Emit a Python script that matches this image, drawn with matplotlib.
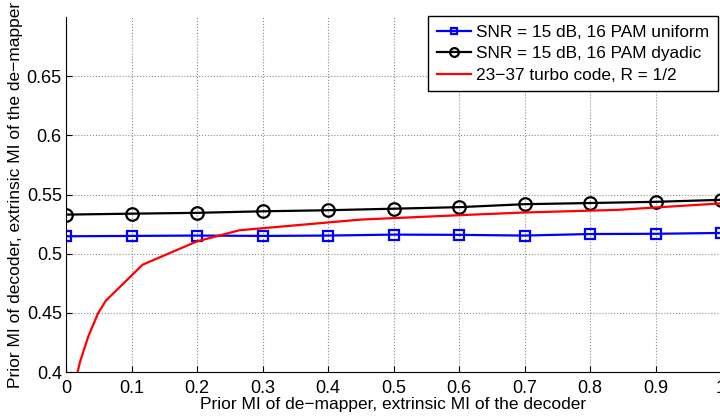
import matplotlib
matplotlib.use('Agg')
import matplotlib.pyplot as plt

# EXIT chart data
prior_mi = [0.0, 0.1, 0.2, 0.3, 0.4, 0.5, 0.6, 0.7, 0.8, 0.9, 1.0]
uniform_mi = [0.5147, 0.515, 0.5153, 0.515, 0.5153, 0.5161, 0.5159, 0.5153, 0.5166, 0.5168, 0.5175]
dyadic_mi = [0.533, 0.5338, 0.5345, 0.5358, 0.5367, 0.538, 0.5393, 0.5418, 0.5428, 0.5438, 0.5455]

turbo_x = [0.0173, 0.0214, 0.034, 0.049, 0.061, 0.117, 0.2, 0.265, 0.45, 0.6, 0.7, 0.842, 1.0]
turbo_y = [0.399, 0.4087, 0.430, 0.4497, 0.4604, 0.4907, 0.5104, 0.5198, 0.5288, 0.5325, 0.5348, 0.537, 0.5425]

plt.rcParams['font.family'] = ['Liberation Sans', 'DejaVu Sans']
plt.rcParams['font.size'] = 13

fig = plt.figure(figsize=(7.2, 4.16), dpi=100)
ax = fig.add_axes([66 / 720, 1 - 372 / 416, 655 / 720, (372 - 17) / 416])

ax.plot(prior_mi, uniform_mi, '-s', color='blue', lw=1.6, ms=7, mfc='none', mew=1.6,
        label='SNR = 15 dB, 16 PAM uniform')
ax.plot(prior_mi, dyadic_mi, '-o', color='black', lw=1.6, ms=9, mfc='none', mew=1.6,
        label='SNR = 15 dB, 16 PAM dyadic')
ax.plot(turbo_x, turbo_y, '-', color='red', lw=1.6, label='23\u221237 turbo code, R = 1/2')

ax.set_xlim(0, 1)
ax.set_ylim(0.4, 0.7)
ax.set_xticks([0, 0.1, 0.2, 0.3, 0.4, 0.5, 0.6, 0.7, 0.8, 0.9, 1])
ax.set_xticklabels(['0', '0.1', '0.2', '0.3', '0.4', '0.5', '0.6', '0.7', '0.8', '0.9', '1'])
ax.set_yticks([0.4, 0.45, 0.5, 0.55, 0.6, 0.65])
ax.set_yticklabels(['0.4', '0.45', '0.5', '0.55', '0.6', '0.65'])
ax.tick_params(direction='in', length=4)
ax.tick_params(axis='x', pad=6)
ax.tick_params(axis='y', pad=3)
ax.spines['top'].set_visible(False)
ax.spines['right'].set_visible(False)
ax.grid(True, linestyle=':', color='0.55', linewidth=0.8)

ax.set_xlabel('Prior MI of de\u2212mapper, extrinsic MI of the decoder', fontsize=12.5, labelpad=0)
ax.set_ylabel('Prior MI of decoder, extrinsic MI of the de\u2212mapper', fontsize=12.5, labelpad=3)

leg = ax.legend(loc='upper right', bbox_to_anchor=(718 / 720, 1 - 16 / 416),
                bbox_transform=fig.transFigure, fancybox=False, framealpha=1,
                edgecolor='black', borderpad=0.5, labelspacing=0.38,
                handletextpad=0.3, handlelength=2.0, borderaxespad=0,
                markerscale=0.7, fontsize=12.4)
leg.get_frame().set_linewidth(1.0)

fig.savefig('out.png', dpi=100)
